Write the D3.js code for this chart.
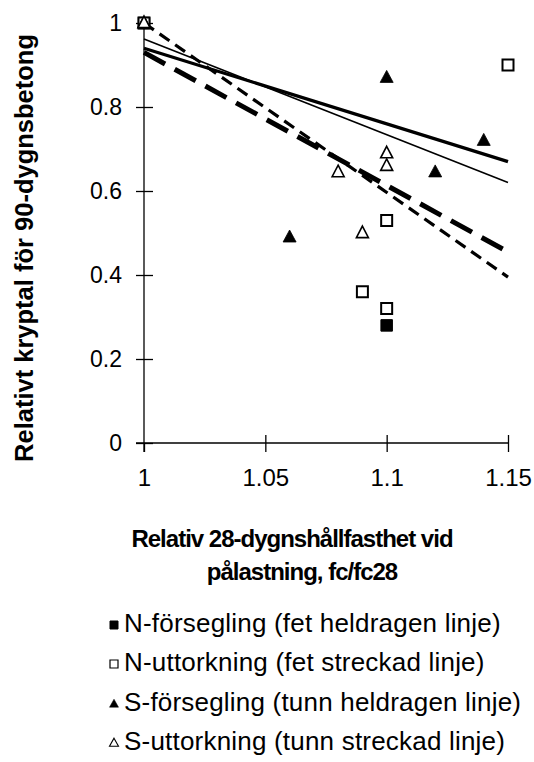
<!DOCTYPE html>
<html><head><meta charset="utf-8">
<script src="https://cdn.jsdelivr.net/npm/d3@7"></script>
<style>
html,body{margin:0;padding:0;background:#fff;}
svg{display:block;font-family:"Liberation Sans",Arial,sans-serif;}
</style></head>
<body>
<svg id="c" width="534" height="762"></svg>
<script>
// ---- data ----
const seriesNames = ["N-försegling (fet heldragen linje)","N-uttorkning (fet streckad linje)","S-försegling (tunn heldragen linje)","S-uttorkning (tunn streckad linje)"];
const nForsX = [1, 1.1];
const nForsY = [1, 0.28];
const nUttX = [1, 1.09, 1.1, 1.1, 1.15];
const nUttY = [1, 0.36, 0.32, 0.53, 0.9];
const sForsX = [1, 1.06, 1.1, 1.12, 1.14];
const sForsY = [1, 0.49, 0.87, 0.645, 0.72];
const sUttX = [1, 1.08, 1.09, 1.1, 1.1];
const sUttY = [1, 0.645, 0.50, 0.66, 0.69];
// trend lines (value at x = 1 and x = 1.15)
const trendX = [1, 1.15];
const nForsTrend = [0.94, 0.67];
const nUttTrend = [0.93, 0.455];
const sForsTrend = [0.962, 0.62];
const sUttTrend = [1.0, 0.395];
const xTicks = [1, 1.05, 1.1, 1.15];
const xTickLabels = ["1", "1.05", "1.1", "1.15"];
const yTicks = [0, 0.2, 0.4, 0.6, 0.8, 1];
const yTickLabels = ["0", "0.2", "0.4", "0.6", "0.8", "1"];
const yTitle = "Relativt kryptal för 90-dygnsbetong";
const xTitle = ["Relativ 28-dygnshållfasthet vid", "pålastning, fc/fc28"];

const svg = d3.select("#c");
const x = d3.scaleLinear().domain([1, 1.15]).range([144, 508]);
const y = d3.scaleLinear().domain([0, 1]).range([443, 23]);

// axes
const xAxis = svg.append("g").attr("transform", `translate(0,${y(0)})`)
  .call(d3.axisBottom(x).tickValues(xTicks).tickFormat((d,i)=>xTickLabels[i]).tickSizeOuter(0).tickSizeInner(9).tickPadding(22));
xAxis.select(".domain").attr("d", `M${x(1)-8},0H${x(1.15)}`);
xAxis.selectAll(".tick line").attr("y1", -8).attr("y2", 9);
xAxis.selectAll(".tick text").attr("font-size", 24).attr("font-family", "Liberation Sans, Arial, sans-serif").attr("dy", "0.5em");

const yAxis = svg.append("g").attr("transform", `translate(${x(1)},0)`)
  .call(d3.axisLeft(y).tickValues(yTicks).tickFormat((d,i)=>yTickLabels[i]).tickSizeOuter(0).tickSizeInner(8).tickPadding(14));
yAxis.select(".domain").attr("d", `M0,${y(1)}V${y(0)+9}`);
yAxis.selectAll(".tick line").attr("x1", -8).attr("x2", 9);
yAxis.selectAll(".tick text").attr("font-size", 23).attr("font-family", "Liberation Sans, Arial, sans-serif");
svg.selectAll(".domain, .tick line").attr("stroke", "#000").attr("stroke-width", 1.3);
svg.selectAll(".tick text").attr("fill", "#000");
xAxis.selectAll(".tick").filter(d=>d===1).select("line").attr("y1", 0);

// trend lines
const line = d3.line().x(d=>x(d[0])).y(d=>y(d[1]));
const trends = [
  {v: nForsTrend, w: 3.2, dash: null},
  {v: sForsTrend, w: 1.6, dash: null},
  {v: nUttTrend, w: 5, dash: "24 11"},
  {v: sUttTrend, w: 3.2, dash: "12 7"}
];
trends.forEach(t => {
  svg.append("path").attr("d", line(trendX.map((xx,i)=>[xx, t.v[i]])))
    .attr("fill", "none").attr("stroke", "#000").attr("stroke-width", t.w)
    .attr("stroke-dasharray", t.dash);
});

// markers
function sq(s){return `M${-s/2},${-s/2}h${s}v${s}h${-s}Z`;}
function tri(w,h){return `M0,${-h*0.6}L${w/2},${h*0.4}L${-w/2},${h*0.4}Z`;}
function drawPts(xs, ys, path, fill, sw){
  svg.append("g").selectAll("path").data(xs.map((d,i)=>[d, ys[i]])).join("path")
    .attr("transform", d=>`translate(${x(d[0])},${y(d[1])})`)
    .attr("d", path).attr("fill", fill).attr("stroke", "#000").attr("stroke-width", sw);
}
drawPts(nForsX, nForsY, sq(11.5), "#000", 1);
drawPts(nUttX, nUttY, sq(11), "#fff", 2);
drawPts(sForsX, sForsY, tri(13, 12), "#000", 0.8);
drawPts(sUttX, sUttY, tri(12, 11.5), "#fff", 1.6);

// axis titles
svg.append("text").attr("transform", `translate(33,248) rotate(-90)`)
  .attr("text-anchor", "middle").attr("font-size", 25.5).attr("font-weight", "bold").text(yTitle);
svg.append("text").attr("x", 292).attr("y", 547).attr("text-anchor", "middle")
  .attr("font-size", 24).attr("font-weight", "bold").attr("letter-spacing", -1).text(xTitle[0]);
svg.append("text").attr("x", 302).attr("y", 580).attr("text-anchor", "middle")
  .attr("font-size", 24).attr("font-weight", "bold").attr("letter-spacing", -1).text(xTitle[1]);

// legend
const legY = [623, 662, 702, 741];
const legMarks = [
  {d: sq(8), fill: "#000", sw: 1},
  {d: sq(8), fill: "#fff", sw: 1.2},
  {d: tri(9, 8), fill: "#000", sw: 0.5},
  {d: tri(9, 8), fill: "#fff", sw: 1.1}
];
const leg = svg.append("g").selectAll("g").data(seriesNames).join("g")
  .attr("transform", (d,i)=>`translate(0,${legY[i]})`);
leg.append("path").attr("transform", "translate(114,2)").attr("d", (d,i)=>legMarks[i].d)
  .attr("fill", (d,i)=>legMarks[i].fill).attr("stroke", "#000").attr("stroke-width", (d,i)=>legMarks[i].sw);
leg.append("text").attr("x", 124).attr("y", 9).attr("font-size", 26).attr("letter-spacing", 0.2).text(d=>d);
</script>
</body></html>
